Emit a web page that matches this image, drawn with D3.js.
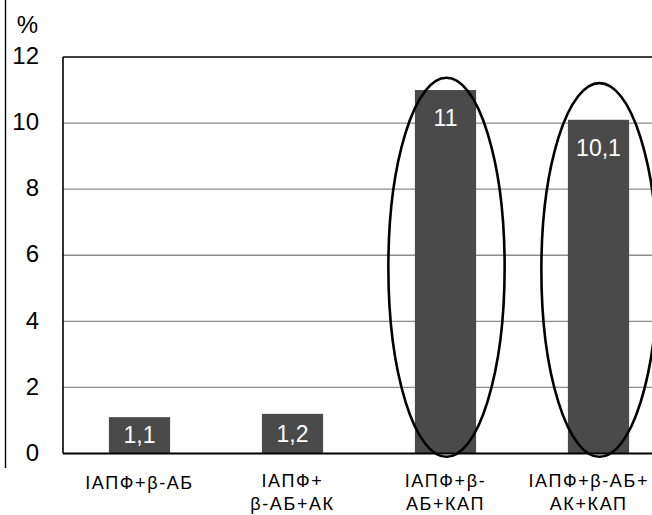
<!DOCTYPE html>
<html>
<head>
<meta charset="utf-8">
<script src="https://cdn.jsdelivr.net/npm/d3@7/dist/d3.min.js"></script>
<style>
  html, body { margin: 0; padding: 0; background: #fff; }
  svg { display: block; }
  text { font-family: "Liberation Sans", Arial, Helvetica, sans-serif; }
</style>
</head>
<body>
<svg id="chart" width="652" height="515"></svg>
<script>
// Therapy combinations (category labels, split across lines)
const categories = ["c1", "c2", "c3", "c4"];
const categoryLines = [
  ["ІАПФ+β-АБ"],
  ["ІАПФ+", "β-АБ+АК"],
  ["ІАПФ+β-", "АБ+КАП"],
  ["ІАПФ+β-АБ+", "АК+КАП"]
];
const values = [1.1, 1.2, 11, 10.1];
const valueLabels = ["1,1", "1,2", "11", "10,1"];
const yTicks = [0, 2, 4, 6, 8, 10, 12];
// Highlighted bars, outlined with ellipses (vertical span in %)
const highlighted = ["c3", "c4"];
const highlightTop = [11.37, 11.21];
const highlightBottom = [-0.1, -0.1];

(function draw() {
  const width = 652;
  const svg = d3.select("#chart");
  const plotLeft = 63, plotTop = 57, plotBottom = 453.5, plotRightEnd = 675;

  const x = d3.scaleBand()
    .domain(categories)
    .range([plotLeft, plotRightEnd])
    .paddingInner(0.6)
    .paddingOuter(0.3);

  const y = d3.scaleLinear().domain([0, 12]).range([plotBottom, plotTop]);

  // Thin vertical rule on the far left
  svg.append("line")
    .attr("x1", 5.5).attr("x2", 5.5)
    .attr("y1", 0).attr("y2", 468)
    .attr("stroke", "#000").attr("stroke-width", 1.4);

  // Gridlines
  svg.append("g")
    .selectAll("line")
    .data(yTicks.filter(d => d > 0 && d < 12))
    .join("line")
    .attr("x1", plotLeft).attr("x2", width)
    .attr("y1", d => y(d)).attr("y2", d => y(d))
    .attr("stroke", "#8c8c8c").attr("stroke-width", 1.4);

  // Bars
  svg.append("g")
    .selectAll("rect")
    .data(values)
    .join("rect")
    .attr("x", (d, i) => x(categories[i]))
    .attr("width", x.bandwidth())
    .attr("y", d => y(d))
    .attr("height", d => plotBottom - y(d))
    .attr("fill", "#4a4a4a");

  // Frame: top, left and bottom edges
  svg.append("line")
    .attr("x1", plotLeft).attr("x2", width).attr("y1", plotTop).attr("y2", plotTop)
    .attr("stroke", "#000").attr("stroke-width", 1.6);
  svg.append("line")
    .attr("x1", plotLeft).attr("x2", plotLeft).attr("y1", plotTop).attr("y2", plotBottom)
    .attr("stroke", "#000").attr("stroke-width", 1.6);
  svg.append("line")
    .attr("x1", plotLeft).attr("x2", width).attr("y1", plotBottom).attr("y2", plotBottom)
    .attr("stroke", "#000").attr("stroke-width", 1.8);

  // Y axis labels
  const yAxis = d3.axisLeft(y).tickValues(yTicks).tickSize(0).tickPadding(0);
  const yg = svg.append("g").attr("transform", "translate(39,0)").call(yAxis);
  yg.select(".domain").remove();
  yg.selectAll("text")
    .attr("font-size", 24)
    .attr("fill", "#000")
    .attr("font-family", "Liberation Sans, Arial, sans-serif")
    .attr("dy", "0.28em");

  svg.append("text")
    .attr("x", 38).attr("y", 33)
    .attr("text-anchor", "end")
    .attr("font-size", 24)
    .text("%");

  // Value labels inside bars
  svg.append("g")
    .selectAll("text")
    .data(values)
    .join("text")
    .attr("x", (d, i) => x(categories[i]) + x.bandwidth() / 2)
    .attr("y", d => Math.min(y(d) + 36, (y(d) + plotBottom) / 2 + 8))
    .attr("text-anchor", "middle")
    .attr("font-size", 23)
    .attr("fill", "#fff")
    .text((d, i) => valueLabels[i]);

  // Category labels, kept inside the right edge
  const cat = svg.append("g")
    .selectAll("text")
    .data(categories)
    .join("text")
    .attr("x", d => x(d) + x.bandwidth() / 2)
    .attr("y", (d, i) => categoryLines[i].length === 1 ? 489 : 487)
    .attr("text-anchor", "middle")
    .attr("font-size", 18)
    .attr("letter-spacing", 1.6)
    .attr("fill", "#000");
  cat.selectAll("tspan")
    .data((d, i) => categoryLines[i])
    .join("tspan")
    .attr("x", function () { return d3.select(this.parentNode).attr("x"); })
    .attr("dy", (d, j) => j === 0 ? 0 : 23)
    .text(d => d);
  cat.each(function () {
    const box = this.getBBox();
    const overflow = box.x + box.width - (width - 3);
    if (overflow > 0) {
      d3.select(this).attr("transform", `translate(${-overflow},0)`);
    }
  });

  // Ellipses around the highlighted bars
  const rxFactor = 0.38;
  svg.append("g")
    .selectAll("ellipse")
    .data(highlighted)
    .join("ellipse")
    .attr("cx", d => x(d) + x.bandwidth() / 2 + 1)
    .attr("cy", (d, i) => (y(highlightTop[i]) + y(highlightBottom[i])) / 2)
    .attr("rx", x.step() * rxFactor)
    .attr("ry", (d, i) => (y(highlightBottom[i]) - y(highlightTop[i])) / 2)
    .attr("fill", "none")
    .attr("stroke", "#000")
    .attr("stroke-width", 2.6);
})();
</script>
</body>
</html>
